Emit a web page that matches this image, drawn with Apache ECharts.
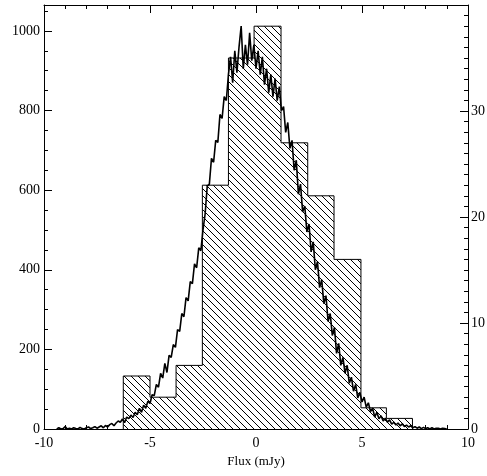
<!DOCTYPE html>
<html>
<head>
<meta charset="utf-8">
<script src="https://cdn.jsdelivr.net/npm/echarts@6/dist/echarts.min.js"></script>
<style>html,body{margin:0;padding:0;background:#fff}#c{width:487px;height:476px}</style>
</head>
<body>
<div id="c"></div>
<script>
// Coarse histogram (right axis): bin edges and counts
const binEdges = [-6.26, -5.00, -3.77, -2.53, -1.30, -0.09, 1.18, 2.44, 3.68, 4.95, 6.15, 7.38];
const binCounts = [5, 3, 6, 23, 35, 38, 27, 22, 16, 2, 1];

// Fine histogram (left axis): flux values and counts
const fluxX = [
-9.4,-9.3,-9.2,-9.1,-9.0,-8.9,-8.8,-8.7,-8.6,-8.5,
-8.4,-8.3,-8.2,-8.1,-8.0,-7.9,-7.8,-7.7,-7.6,-7.5,
-7.4,-7.3,-7.2,-7.1,-7.0,-6.9,-6.8,-6.7,-6.6,-6.5,
-6.4,-6.3,-6.2,-6.1,-6.0,-5.9,-5.8,-5.7,-5.6,-5.5,
-5.4,-5.3,-5.2,-5.1,-5.0,-4.9,-4.8,-4.7,-4.6,-4.5,
-4.4,-4.3,-4.2,-4.1,-4.0,-3.9,-3.8,-3.7,-3.6,-3.5,
-3.4,-3.3,-3.2,-3.1,-3.0,-2.9,-2.8,-2.7,-2.6,-2.5,
-2.4,-2.3,-2.2,-2.1,-2.0,-1.9,-1.8,-1.7,-1.6,-1.5,
-1.4,-1.3,-1.2,-1.1,-1.0,-0.9,-0.8,-0.7,-0.6,-0.5,
-0.4,-0.3,-0.2,-0.1,0.0,0.1,0.2,0.3,0.4,0.5,
0.6,0.7,0.8,0.9,1.0,1.1,1.2,1.3,1.4,1.5,
1.6,1.7,1.8,1.9,2.0,2.1,2.2,2.3,2.4,2.5,
2.6,2.7,2.8,2.9,3.0,3.1,3.2,3.3,3.4,3.5,
3.6,3.7,3.8,3.9,4.0,4.1,4.2,4.3,4.4,4.5,
4.6,4.7,4.8,4.9,5.0,5.1,5.2,5.3,5.4,5.5,
5.6,5.7,5.8,5.9,6.0,6.1,6.2,6.3,6.4,6.5,
6.6,6.7,6.8,6.9,7.0,7.1,7.2,7.3,7.4,7.5,
7.6,7.7,7.8,7.9,8.0,8.1,8.2,8.3,8.4,8.5,
8.6,8.7,8.8,8.9,9.0
];
const fluxCounts = [
0,3,0,1,6,0,2,0,3,1,
0,4,1,0,3,5,1,3,6,2,
5,8,3,9,5,11,14,8,15,20,
17,25,16,30,26,35,29,42,36,52,
42,60,52,70,64,86,84,112,105,140,
128,165,142,185,180,212,205,250,245,290,
282,330,322,370,365,415,405,455,448,500,
540,610,615,680,670,725,720,790,780,835,
825,890,935,870,950,895,960,1012,905,965,
915,995,925,965,905,950,890,935,865,905,
845,890,835,880,825,860,800,810,745,770,
705,725,650,675,590,615,545,560,495,515,
445,470,400,420,355,375,315,335,270,290,
235,255,190,215,160,180,140,160,115,130,
95,112,78,92,68,80,55,66,44,52,
30,42,26,33,20,27,17,23,12,17,
10,15,8,13,6,10,5,8,3,6,
2,5,1,4,1,3,0,3,0,2,
2,0,2,1,0
];

const xTickLabels = ['-10', '-5', '0', '5', '10'];
const leftTickLabels = ['0', '200', '400', '600', '800', '1000'];
const rightTickLabels = ['0', '10', '20', '30'];

// hatch pattern tile
const tile = document.createElement('canvas');
tile.width = 7; tile.height = 7;
const g = tile.getContext('2d');
g.fillStyle = '#fff'; g.fillRect(0, 0, 7, 7);
g.strokeStyle = '#000'; g.lineWidth = 1;
g.beginPath();
g.moveTo(-1, -1); g.lineTo(8, 8);
g.moveTo(-1, 6); g.lineTo(1, 8);
g.moveTo(6, -1); g.lineTo(8, 1);
g.stroke();

const FONT = 'Liberation Serif';
const chart = echarts.init(document.getElementById('c'), null, {renderer: 'canvas'});

const barData = binCounts.map((c, i) => [binEdges[i], binEdges[i + 1], c]);
const lineData = fluxX.map((x, i) => [x, fluxCounts[i]]);
// step outline of the coarse histogram
const outline = [[binEdges[0], 0]];
binCounts.forEach((c, i) => { outline.push([binEdges[i], c]); outline.push([binEdges[i + 1], c]); });
outline.push([binEdges[binEdges.length - 1], 0]);

const axisCommon = {
  axisLine: {show: true, onZero: false, lineStyle: {color: '#000', width: 1}},
  axisTick: {show: true, inside: true, length: 8, lineStyle: {color: '#000'}},
  minorTick: {show: true, length: 4, lineStyle: {color: '#000'}},
  splitLine: {show: false},
  minorSplitLine: {show: false}
};

chart.setOption({
  animation: false,
  backgroundColor: '#fff',
  grid: {left: 44, right: 19, top: 5, bottom: 47, containLabel: false, outerBoundsMode: 'none'},
  xAxis: [
    Object.assign({}, axisCommon, {
      type: 'value', position: 'bottom', min: -10, max: 10, interval: 5,
      minorTick: Object.assign({}, axisCommon.minorTick, {splitNumber: 5}),
      axisLabel: {
        color: '#000', fontFamily: FONT, fontSize: 14, margin: 7,
        formatter: v => (xTickLabels.indexOf(String(v)) >= 0 ? String(v) : '')
      },
      name: 'Flux (mJy)', nameLocation: 'middle', nameGap: 22,
      nameTextStyle: {color: '#000', fontFamily: FONT, fontSize: 13}
    }),
    Object.assign({}, axisCommon, {
      type: 'value', position: 'top', min: -10, max: 10, interval: 5,
      minorTick: Object.assign({}, axisCommon.minorTick, {splitNumber: 5}),
      axisLabel: {show: false}
    })
  ],
  yAxis: [
    Object.assign({}, axisCommon, {
      type: 'value', position: 'left', min: 0, max: 1065, interval: 200,
      minorTick: Object.assign({}, axisCommon.minorTick, {splitNumber: 4}),
      axisLabel: {
        color: '#000', fontFamily: FONT, fontSize: 14, margin: 4,
        formatter: v => (leftTickLabels.indexOf(String(v)) >= 0 ? String(v) : '')
      }
    }),
    Object.assign({}, axisCommon, {
      type: 'value', position: 'right', min: 0, max: 40, interval: 10,
      minorTick: Object.assign({}, axisCommon.minorTick, {splitNumber: 10}),
      axisLabel: {
        color: '#000', fontFamily: FONT, fontSize: 14, margin: 3,
        formatter: v => (rightTickLabels.indexOf(String(v)) >= 0 ? String(v) : '')
      }
    })
  ],
  series: [
    {
      type: 'custom',
      xAxisIndex: 0, yAxisIndex: 1,
      z: 2,
      data: barData,
      renderItem: function (params, api) {
        const p0 = api.coord([api.value(0), 0]);
        const p1 = api.coord([api.value(1), api.value(2)]);
        return {
          type: 'rect',
          shape: {x: p0[0], y: p1[1], width: p1[0] - p0[0], height: p0[1] - p1[1]},
          style: {fill: {image: tile, repeat: 'repeat'}, stroke: null, lineWidth: 0}
        };
      }
    },
    {
      type: 'line',
      xAxisIndex: 0, yAxisIndex: 1,
      z: 3,
      data: outline,
      showSymbol: false,
      symbol: 'none',
      lineStyle: {color: '#000', width: 1},
      silent: true
    },
    {
      type: 'line',
      xAxisIndex: 0, yAxisIndex: 0,
      z: 4,
      data: lineData,
      showSymbol: false,
      symbol: 'none',
      lineStyle: {color: '#000', width: 1.6},
      silent: true
    }
  ]
});
</script>
</body>
</html>
